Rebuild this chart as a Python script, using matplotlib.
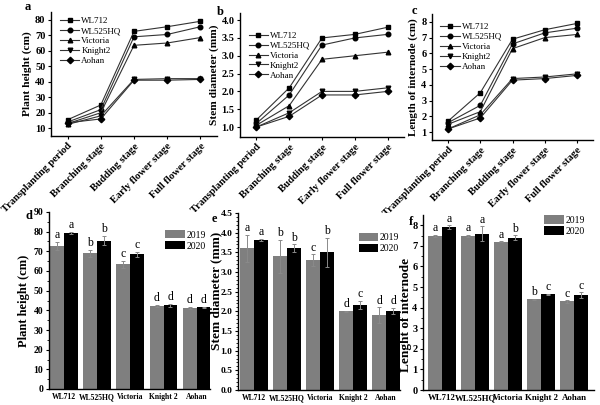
import matplotlib
matplotlib.use("Agg")
import matplotlib.pyplot as plt
import matplotlib.transforms as mtransforms
import numpy as np

plt.rcParams['font.family'] = ['Liberation Serif', 'DejaVu Serif']
plt.rcParams['font.weight'] = 'bold'

stages = ["Transplanting period", "Branching stage", "Budding stage",
          "Early flower stage", "Full flower stage"]
varieties = ["WL712", "WL525HQ", "Victoria", "Knight2", "Aohan"]
markers = ["s", "o", "^", "v", "D"]

height_WL712 = [15.5, 25, 72.5, 75.5, 79]
height_WL525HQ = [14, 22, 69, 70.5, 75.5]
height_Victoria = [13, 20, 63.5, 65, 68.5]
height_Knight2 = [12.5, 18, 41.5, 42, 42]
height_Aohan = [13.5, 16, 41, 41, 41.5]

diam_WL712 = [1.2, 2.1, 3.5, 3.6, 3.8]
diam_WL525HQ = [1.1, 1.9, 3.3, 3.5, 3.6]
diam_Victoria = [1.05, 1.6, 2.9, 3.0, 3.1]
diam_Knight2 = [1.0, 1.4, 2.0, 2.0, 2.1]
diam_Aohan = [1.0, 1.3, 1.9, 1.9, 2.0]

intern_WL712 = [1.7, 3.5, 6.9, 7.5, 7.9]
intern_WL525HQ = [1.6, 2.7, 6.6, 7.3, 7.6]
intern_Victoria = [1.5, 2.3, 6.3, 7.0, 7.2]
intern_Knight2 = [1.2, 2.1, 4.4, 4.5, 4.7]
intern_Aohan = [1.2, 1.9, 4.3, 4.4, 4.6]

bar_cats = ["WL712", "WL525HQ", "Victoria", "Knight 2", "Aohan"]
years = ["2019", "2020"]

ph_2019 = [72.5, 69, 63.5, 42, 41]
ph_2020 = [79.5, 75.5, 68.5, 42.5, 41.5]
ph_err2019 = [2, 1.8, 1.8, 0.5, 0.5]
ph_err2020 = [0.5, 2.2, 1.2, 0.8, 0.3]
ph_let2019 = ["a", "b", "c", "d", "d"]
ph_let2020 = ["a", "b", "c", "d", "d"]

sd_2019 = [3.6, 3.4, 3.3, 2.0, 1.9]
sd_2020 = [3.82, 3.6, 3.5, 2.16, 2.0]
sd_err2019 = [0.35, 0.42, 0.15, 0.02, 0.2]
sd_err2020 = [0.03, 0.1, 0.37, 0.1, 0.08]
sd_let2019 = ["a", "b", "c", "d", "d"]
sd_let2020 = ["a", "b", "b", "c", "d"]

li_2019 = [7.5, 7.5, 7.2, 4.4, 4.3]
li_2020 = [7.9, 7.6, 7.4, 4.65, 4.6]
li_err2019 = [0.05, 0.05, 0.03, 0.03, 0.05]
li_err2020 = [0.1, 0.35, 0.12, 0.03, 0.15]
li_let2019 = ["a", "a", "a", "b", "c"]
li_let2020 = ["a", "a", "b", "c", "c"]

W, H = 600, 405
fig = plt.figure(figsize=(6, 4.05), dpi=100)

def ax_px(l, r, t, b):
    return fig.add_axes([l / W, 1 - b / H, (r - l) / W, (b - t) / H])

def style(ax):
    for s in ["top", "right"]:
        ax.spines[s].set_visible(False)
    for s in ["left", "bottom"]:
        ax.spines[s].set_linewidth(1.0)
    ax.tick_params(direction="out", length=2.5, width=0.8, pad=1.5)

def line_panel(ax, series, ylim, yticks, ylabel, ylfs, letter, letter_xy, yfmt, leg_anchor):
    x = np.arange(len(stages))
    for vals, name, m in zip(series, varieties, markers):
        ax.plot(x, vals, marker=m, color="#333333", mfc="black", mec="black",
                lw=0.8, ms=3.3, label=name)
    ax.set_xlim(-0.5, 4.5)
    ax.set_ylim(*ylim)
    ax.set_yticks(yticks)
    ax.set_yticklabels([yfmt.format(v) for v in yticks], fontsize=7.5, fontweight="bold")
    ax.set_xticks(x)
    ax.set_xticklabels(stages, rotation=45, ha="right", va="top", rotation_mode="anchor",
                       fontsize=7.5, fontweight="bold")
    off = mtransforms.ScaledTranslation(6 / 100, -3 / 100, fig.dpi_scale_trans)
    for lab in ax.get_xticklabels():
        lab.set_transform(lab.get_transform() + off)
    ax.set_ylabel(ylabel, fontsize=ylfs, fontweight="bold", labelpad=2)
    style(ax)
    leg = ax.legend(loc="upper left", frameon=False, fontsize=6.5, handlelength=2.2,
                    labelspacing=0.18, borderaxespad=0.0, handletextpad=0.2,
                    bbox_to_anchor=leg_anchor)
    for t in leg.get_texts():
        t.set_fontweight("normal")
    fig.text(letter_xy[0] / W, 1 - letter_xy[1] / H, letter, fontsize=9,
             fontweight="bold", ha="left", va="center")

axa = ax_px(51, 217, 12, 136)
line_panel(axa, [height_WL712, height_WL525HQ, height_Victoria, height_Knight2, height_Aohan],
           (5, 85), [10, 20, 30, 40, 50, 60, 70, 80], "Plant height (cm)", 8.2, "a", (25, 7), "{:.0f}",
           (0.03, 0.99))

axb = ax_px(240, 404, 13, 137)
line_panel(axb, [diam_WL712, diam_WL525HQ, diam_Victoria, diam_Knight2, diam_Aohan],
           (0.72, 4.2), [1.0, 1.5, 2.0, 2.5, 3.0, 3.5, 4.0], "Stem diameter (mm)", 8.2, "b", (217, 12), "{:.1f}",
           (0.03, 0.88))

axc = ax_px(432, 593, 14, 140)
line_panel(axc, [intern_WL712, intern_WL525HQ, intern_Victoria, intern_Knight2, intern_Aohan],
           (0.5, 8.5), [1, 2, 3, 4, 5, 6, 7, 8], "Length of internode (cm)", 7.9, "c", (412, 11), "{:.0f}",
           (0.03, 0.96))

def bar_panel(ax, v19, v20, e19, e20, l19, l20, ylim, yticks, yfmt, minor, ylabel, ylfs, ylpos,
              letter, letter_xy, xlim, xfs, ytfs, leg_anchor, lab_off):
    x = np.arange(len(bar_cats))
    w = 0.42
    ax.bar(x - w / 2, v19, w, color="#7f7f7f", label=years[0],
           yerr=e19, error_kw=dict(ecolor="#8a8a8a", elinewidth=0.7, capsize=1.5, capthick=0.7))
    ax.bar(x + w / 2, v20, w, color="black", label=years[1],
           yerr=e20, error_kw=dict(ecolor="#8a8a8a", elinewidth=0.7, capsize=1.5, capthick=0.7))
    for xi, v, e, l in zip(x - w / 2, v19, e19, l19):
        ax.text(xi, v + e + lab_off, l, ha="center", va="bottom", fontsize=8.5, fontweight="normal")
    for xi, v, e, l in zip(x + w / 2, v20, e20, l20):
        ax.text(xi, v + e + lab_off, l, ha="center", va="bottom", fontsize=8.5, fontweight="normal")
    ax.set_xlim(*xlim)
    ax.set_ylim(*ylim)
    ax.set_yticks(yticks)
    ax.set_yticks(minor, minor=True)
    ax.set_yticklabels([yfmt.format(v) for v in yticks], fontsize=ytfs, fontweight="bold")
    ax.set_xticks(x)
    ax.set_xticklabels(bar_cats, fontsize=xfs, fontweight="bold")
    ax.set_ylabel(ylabel, fontsize=ylfs, fontweight="bold")
    ax.yaxis.set_label_coords(*ylpos)
    style(ax)
    ax.tick_params(axis="x", length=0, pad=3)
    ax.tick_params(axis="y", which="minor", length=1.5, width=0.6)
    leg = ax.legend(loc="upper right", frameon=False, fontsize=7, handlelength=2.0,
                    handleheight=0.95, labelspacing=0.15, borderaxespad=0.0,
                    bbox_to_anchor=leg_anchor, handletextpad=0.2)
    for t in leg.get_texts():
        t.set_fontweight("normal")
    fig.text(letter_xy[0] / W, 1 - letter_xy[1] / H, letter, fontsize=9,
             fontweight="bold", ha="left", va="center")

axd = ax_px(49, 210, 212, 389)
bar_panel(axd, ph_2019, ph_2020, ph_err2019, ph_err2020, ph_let2019, ph_let2020,
          (0, 90), list(range(0, 91, 10)), "{:.0f}", list(np.arange(5, 90, 10)),
          "Plant height (cm)", 9, (-0.12, 0.5), "d", (26, 216), (-0.45, 4.4), 5.5, 7, (1.0, 0.92), 0.5)

axe = ax_px(238, 400, 213, 390)
bar_panel(axe, sd_2019, sd_2020, sd_err2019, sd_err2020, sd_let2019, sd_let2020,
          (0, 4.5), list(np.arange(0, 4.51, 0.5)), "{:.1f}", list(np.arange(0.1, 4.5, 0.1)),
          "Stem diameter (mm)", 9.6, (-0.1, 0.56), "e", (212, 219), (-0.48, 4.42), 5.5, 6.8, (1.02, 0.91), 0.02)

axf = ax_px(423, 594, 215, 390)
bar_panel(axf, li_2019, li_2020, li_err2019, li_err2020, li_let2019, li_let2020,
          (0, 8.5), list(range(0, 9)), "{:.0f}", list(np.arange(0.5, 8.5, 1.0)),
          "Lenght of internode", 9.6, (-0.065, 0.43), "f", (409, 222), (-0.58, 4.6), 6.3, 7.5, (0.97, 1.02), 0.02)

fig.savefig("out.png", dpi=100)
